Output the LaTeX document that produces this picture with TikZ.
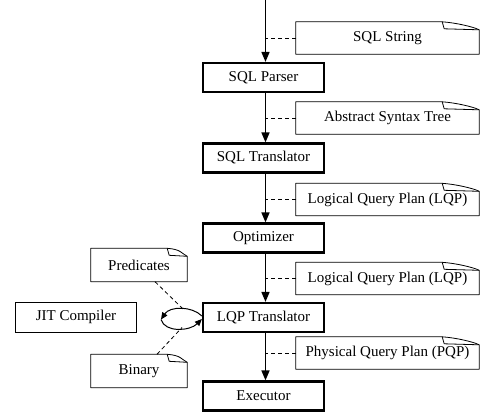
\documentclass[tikz,border=0pt]{standalone}
\usepackage{fontspec}
\setmainfont{Liberation Serif}
\usetikzlibrary{arrows.meta}

\tikzset{
  txt/.style={font=\fontsize{15}{18}\selectfont},
  stage/.style={txt, draw, line width=2.2pt, minimum width=121pt, minimum height=29pt, inner sep=0pt},
  tool/.style={txt, draw, line width=0.9pt, minimum width=121pt, minimum height=30pt, inner sep=0pt},
  artifact/.style={txt, minimum width=183pt, minimum height=32pt, inner sep=0pt},
  smallartifact/.style={txt, minimum width=96pt, minimum height=33pt, inner sep=0pt},
  outline/.style={line width=0.8pt, line join=round},
  flow/.style={line width=1.6pt, -{Triangle[length=10pt,width=8pt]}},
  link/.style={line width=0.8pt, dash pattern=on 4pt off 3pt},
  cycleflow/.style={line width=1pt, -{Triangle[length=7pt,width=6pt]}}
}

\begin{document}
\begin{tikzpicture}[x=1pt, y=-1pt]
\useasboundingbox (0,0) rectangle (483,416);

% pipeline stages
\node[stage] (parser)     at (263.5, 77.5)  {SQL Parser};
\node[stage] (translator) at (263.5, 158)   {SQL Translator};
\node[stage] (optimizer)  at (263.5, 238)   {Optimizer};
\node[stage] (lqpt)       at (263.5, 317.5) {LQP Translator};
\node[stage] (executor)   at (263.5, 396)   {Executor};

% JIT compiler
\node[tool] (jit) at (76, 317) {JIT Compiler};

% intermediate artifacts
\node[artifact] (sqlstr) at (387.5, 38)    {SQL String};
\node[artifact] (ast)    at (387.5, 118)   {Abstract Syntax Tree};
\node[artifact] (lqpa)   at (387.5, 199.5) {Logical Query Plan (LQP)};
\node[artifact] (lqpb)   at (387.5, 278.5) {Logical Query Plan (LQP)};
\node[artifact] (pqp)    at (387.5, 353)   {Physical Query Plan (PQP)};
\node[smallartifact] (pred) at (139, 265) {Predicates};
\node[smallartifact] (bin)  at (139, 371) {Binary};

% note outlines with a folded corner
\foreach \n/\f in {sqlstr/37pt, ast/37pt, lqpa/37pt, lqpb/37pt, pqp/37pt, pred/20pt, bin/20pt} {
  \draw[outline] (\n.south west) -- (\n.north west) -- ([xshift=-\f]\n.north east)
    .. controls ([xshift={-\f+14pt},yshift=-1pt]\n.north east) and ([xshift=-6pt,yshift=-5pt]\n.north east) ..
    ([yshift=-8pt]\n.north east) -- (\n.south east) -- cycle;
  \draw[outline] ([xshift=-\f]\n.north east) -- ([xshift={-\f+2pt},yshift=-7pt]\n.north east)
    -- ([yshift=-8pt]\n.north east);
}

% main flow
\coordinate (src) at (265.5, 0);
\draw[flow] (src) -- ([xshift=2pt]parser.north);
\draw[flow] ([xshift=2pt]parser.south) -- ([xshift=2pt]translator.north);
\draw[flow] ([xshift=2pt]translator.south) -- ([xshift=2pt]optimizer.north);
\draw[flow] ([xshift=2pt]optimizer.south) -- ([xshift=2pt]lqpt.north);
\draw[flow] ([xshift=2pt]lqpt.south) -- ([xshift=2pt]executor.north);

% artifacts attached to the flow
\foreach \n in {sqlstr, ast, lqpa, lqpb, pqp}
  \draw[link] (\n.west) -- (\n.west -| src);

% round trip through the JIT compiler
\coordinate (loopL) at (161, 319.5);
\coordinate (loopTop) at (183, 309);
\coordinate (loopBot) at (182, 327.5);
\draw[cycleflow] ([yshift=1.5pt]lqpt.west) .. controls (192,306) and (170,306) .. (loopL);
\draw[cycleflow] (loopL) .. controls (165,333) and (190,331) .. ([yshift=-1.5pt]lqpt.west);

\draw[link] ([xshift=16pt]pred.south) -- (loopTop);
\draw[link] ([xshift=18pt]bin.north) -- (loopBot);
\end{tikzpicture}
\end{document}
